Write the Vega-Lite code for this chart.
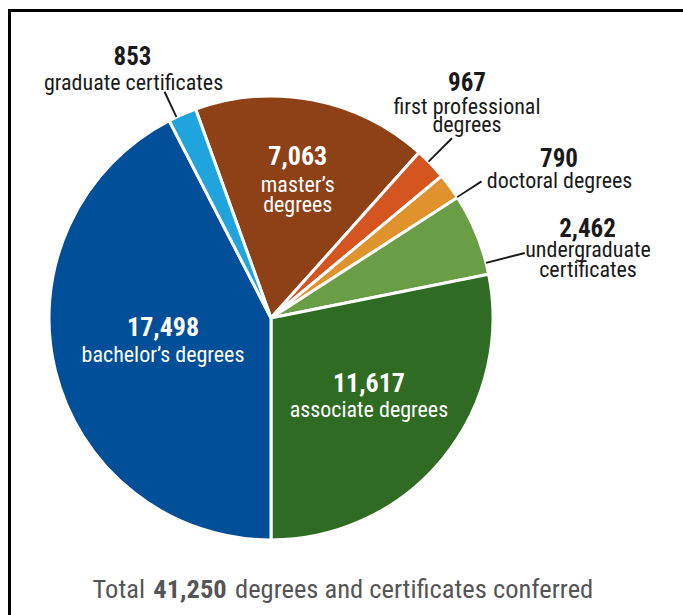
{
  "$schema": "https://vega.github.io/schema/vega-lite/v6.json",
  "autosize": "none",
  "width": 523,
  "height": 594,
  "padding": {"left": 9.5, "top": 21, "right": 150.5, "bottom": 0},
  "background": "white",
  "config": {"view": {"stroke": null}, "text": {"font": "Roboto Condensed"}},
  "data": {"values": [
    {"cat": "master’s degrees", "value": 7063, "order": 1, "label": "master’s\ndegrees"},
    {"cat": "first professional degrees", "value": 967, "order": 2, "label": "first professional\ndegrees"},
    {"cat": "doctoral degrees", "value": 790, "order": 3, "label": "doctoral degrees"},
    {"cat": "undergraduate certificates", "value": 2462, "order": 4, "label": "undergraduate\ncertificates"},
    {"cat": "associate degrees", "value": 11617, "order": 5, "label": "associate degrees"},
    {"cat": "bachelor’s degrees", "value": 17498, "order": 6, "label": "bachelor’s degrees"},
    {"cat": "graduate certificates", "value": 853, "order": 7, "label": "graduate certificates"}
  ]},
  "layer": [
    {
      "transform": [{"filter": "datum.order == 1"}],
      "mark": {"type": "rect", "fill": null, "stroke": "black", "strokeWidth": 3},
      "encoding": {"x": {"value": 0}, "y": {"value": -10.5}, "x2": {"value": 800}, "y2": {"value": 800}}
    },
    {
      "encoding": {
        "theta": {"field": "value", "type": "quantitative", "stack": true, "scale": {"range": [-0.34639, 5.9368]}},
        "order": {"field": "order", "type": "quantitative"}
      },
      "layer": [
        {
          "mark": {"type": "arc", "outerRadius": 222, "stroke": "white", "strokeWidth": 3},
          "encoding": {
            "color": {"field": "cat", "type": "nominal", "legend": null,
              "scale": {"domain": ["master’s degrees", "first professional degrees", "doctoral degrees", "undergraduate certificates", "associate degrees", "bachelor’s degrees", "graduate certificates"],
                        "range": ["#8E4017", "#D45520", "#E0922C", "#6A9E46", "#2F6B22", "#004F98", "#20A4DD"]}}
          }
        },
        {"mark": {"type": "text", "radius": 140.5, "dx": 0, "dy": -15, "align": "center", "baseline": "alphabetic", "fontSize": 26, "fontWeight": "bold", "color": "white"},
         "encoding": {"detail": {"field": "cat"}, "text": {"condition": {"test": "datum.order == 1", "field": "value", "format": ","}, "value": ""}}},
        {"mark": {"type": "text", "radius": 140.5, "dx": 0, "dy": 12, "align": "center", "baseline": "alphabetic", "fontSize": 22, "lineBreak": "\n", "lineHeight": 20, "color": "white"},
         "encoding": {"detail": {"field": "cat"}, "text": {"condition": {"test": "datum.order == 1", "field": "label"}, "value": ""}}},
        {"mark": {"type": "text", "radius": 272.4, "dx": 0, "dy": -37.8, "align": "center", "baseline": "alphabetic", "fontSize": 25, "fontWeight": "bold", "color": "#1a1a1a"},
         "encoding": {"detail": {"field": "cat"}, "text": {"condition": {"test": "datum.order == 2", "field": "value", "format": ","}, "value": ""}}},
        {"mark": {"type": "text", "radius": 272.4, "dx": 0, "dy": -15.3, "align": "center", "baseline": "alphabetic", "fontSize": 22, "lineBreak": "\n", "lineHeight": 18.3, "color": "#1a1a1a"},
         "encoding": {"detail": {"field": "cat"}, "text": {"condition": {"test": "datum.order == 2", "field": "label"}, "value": ""}}},
        {"mark": {"type": "text", "radius": 265, "dx": 74.5, "dy": 6, "align": "center", "baseline": "alphabetic", "fontSize": 25, "fontWeight": "bold", "color": "#1a1a1a"},
         "encoding": {"detail": {"field": "cat"}, "text": {"condition": {"test": "datum.order == 3", "field": "value", "format": ","}, "value": ""}}},
        {"mark": {"type": "text", "radius": 265, "dx": 75, "dy": 27.3, "align": "center", "baseline": "alphabetic", "fontSize": 22, "lineBreak": "\n", "lineHeight": 20, "color": "#1a1a1a"},
         "encoding": {"detail": {"field": "cat"}, "text": {"condition": {"test": "datum.order == 3", "field": "label"}, "value": ""}}},
        {"mark": {"type": "text", "radius": 265, "dx": 71, "dy": 18.8, "align": "center", "baseline": "alphabetic", "fontSize": 25, "fontWeight": "bold", "color": "#1a1a1a"},
         "encoding": {"detail": {"field": "cat"}, "text": {"condition": {"test": "datum.order == 4", "field": "value", "format": ","}, "value": ""}}},
        {"mark": {"type": "text", "radius": 265, "dx": 71.5, "dy": 38.8, "align": "center", "baseline": "alphabetic", "fontSize": 22, "lineBreak": "\n", "lineHeight": 20, "color": "#1a1a1a"},
         "encoding": {"detail": {"field": "cat"}, "text": {"condition": {"test": "datum.order == 4", "field": "label"}, "value": ""}}},
        {"mark": {"type": "text", "radius": 126.6, "dx": 0, "dy": -6.2, "align": "center", "baseline": "alphabetic", "fontSize": 26, "fontWeight": "bold", "color": "white"},
         "encoding": {"detail": {"field": "cat"}, "text": {"condition": {"test": "datum.order == 5", "field": "value", "format": ","}, "value": ""}}},
        {"mark": {"type": "text", "radius": 126.6, "dx": 0, "dy": 18.8, "align": "center", "baseline": "alphabetic", "fontSize": 22, "lineBreak": "\n", "lineHeight": 20, "color": "white"},
         "encoding": {"detail": {"field": "cat"}, "text": {"condition": {"test": "datum.order == 5", "field": "label"}, "value": ""}}},
        {"mark": {"type": "text", "radius": 111.1, "dx": 0, "dy": -8.2, "align": "center", "baseline": "alphabetic", "fontSize": 26, "fontWeight": "bold", "color": "white"},
         "encoding": {"detail": {"field": "cat"}, "text": {"condition": {"test": "datum.order == 6", "field": "value", "format": ","}, "value": ""}}},
        {"mark": {"type": "text", "radius": 111.1, "dx": 0, "dy": 17.8, "align": "center", "baseline": "alphabetic", "fontSize": 22, "lineBreak": "\n", "lineHeight": 20, "color": "white"},
         "encoding": {"detail": {"field": "cat"}, "text": {"condition": {"test": "datum.order == 6", "field": "label"}, "value": ""}}},
        {"mark": {"type": "text", "radius": 265, "dx": -32.5, "dy": -10, "align": "center", "baseline": "alphabetic", "fontSize": 25, "fontWeight": "bold", "color": "#1a1a1a"},
         "encoding": {"detail": {"field": "cat"}, "text": {"condition": {"test": "datum.order == 7", "field": "value", "format": ","}, "value": ""}}},
        {"mark": {"type": "text", "radius": 265, "dx": -31.5, "dy": 15, "align": "center", "baseline": "alphabetic", "fontSize": 22, "lineBreak": "\n", "lineHeight": 20, "color": "#1a1a1a"},
         "encoding": {"detail": {"field": "cat"}, "text": {"condition": {"test": "datum.order == 7", "field": "label"}, "value": ""}}}
      ]
    },
    {
      "transform": [{"filter": "datum.order == 7"}],
      "mark": {"type": "arc", "radius2": 222, "radius": 250, "color": "#1a1a1a"},
      "encoding": {"theta": {"value": -0.4438}, "theta2": {"value": -0.4358}}
    },
    {
      "transform": [{"filter": "datum.order == 2"}],
      "mark": {"type": "arc", "radius2": 222, "radius": 255, "color": "#1a1a1a"},
      "encoding": {"theta": {"value": 0.7849}, "theta2": {"value": 0.7929}}
    },
    {
      "transform": [{"filter": "datum.order == 3"}],
      "mark": {"type": "arc", "radius2": 222, "radius": 251, "color": "#1a1a1a"},
      "encoding": {"theta": {"value": 0.991}, "theta2": {"value": 0.999}}
    },
    {
      "transform": [{"filter": "datum.order == 4"}],
      "mark": {"type": "arc", "radius2": 222, "radius": 262, "color": "#1a1a1a"},
      "encoding": {"theta": {"value": 1.316}, "theta2": {"value": 1.324}}
    },
    {
      "transform": [{"filter": "datum.order == 1"}],
      "mark": {"type": "text", "radius": 280, "dx": -126, "align": "right", "baseline": "alphabetic", "fontSize": 26.5, "color": "#555555"},
      "encoding": {"theta": {"value": 3.14159}, "text": {"value": "Total"}}
    },
    {
      "transform": [{"aggregate": [{"op": "sum", "field": "value", "as": "total"}]}],
      "mark": {"type": "text", "radius": 280, "dx": -81, "align": "center", "baseline": "alphabetic", "fontSize": 26.5, "fontWeight": "bold", "color": "#555555"},
      "encoding": {"theta": {"value": 3.14159}, "text": {"field": "total", "type": "quantitative", "format": ","}}
    },
    {
      "transform": [{"filter": "datum.order == 1"}],
      "mark": {"type": "text", "radius": 280, "dx": -36, "align": "left", "baseline": "alphabetic", "fontSize": 26.5, "color": "#555555"},
      "encoding": {"theta": {"value": 3.14159}, "text": {"value": "degrees and certificates conferred"}}
    }
  ]
}
